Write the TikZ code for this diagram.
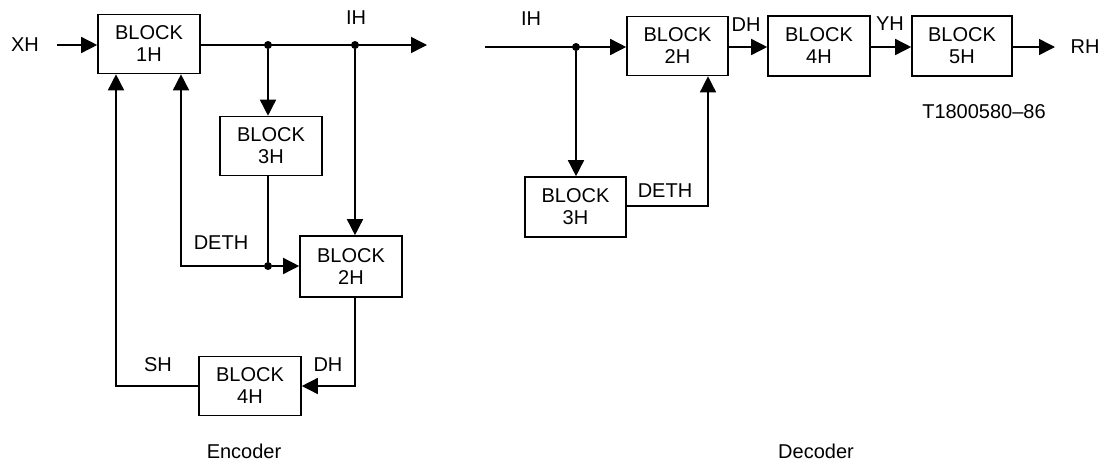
\documentclass[tikz,border=0pt]{standalone}
\usepackage{fontspec}
\setmainfont{Liberation Sans}
\usetikzlibrary{arrows.meta}
\begin{document}
\begin{tikzpicture}[x=1pt,y=-1pt,
  every node/.style={font=\fontsize{20}{22}\selectfont},
  blk/.style={draw,line width=1.6pt,inner sep=0pt,align=center,minimum width=102pt,minimum height=59pt},
  wire/.style={line width=1.5pt},
  arr/.style={wire,-{Triangle[length=16pt,width=16pt]}},
  lbl/.style={inner sep=0pt},
  dot/.style={circle,fill,inner sep=0pt,minimum size=8pt}]
\useasboundingbox (0,0) rectangle (1106,464);
% ---------------- Encoder ----------------
\node[blk] (b1) at (149,44) {BLOCK\\1H};
\node[blk] (b3) at (271,146) {BLOCK\\3H};
\node[blk,minimum height=61pt] (b2) at (351,266.5) {BLOCK\\2H};
\node[blk] (b4) at (250,386) {BLOCK\\4H};
\coordinate (xin) at (57,45);
\coordinate (eout) at (427,45);
\node[dot] (j1) at (268,45) {};
\node[dot] (j2) at (355,45) {};
\node[dot] (j3) at (268,266) {};
\coordinate (c1) at (181,266);
\coordinate (c2) at (355,386);
\coordinate (c3) at (116,386);
\draw[arr] (xin) -- (b1.west |- xin);
\draw[arr] (b1.east |- xin) -- (eout);
\draw[arr] (j1) -- (j1 |- b3.north);
\draw[arr] (j2) -- (j2 |- b2.north);
\draw[wire] (j1 |- b3.south) -- (j3);
\draw[arr] (j3) -- (b2.west |- j3);
\draw[arr] (j3) -- (c1) -- (c1 |- b1.south);
\draw[arr] (j2 |- b2.south) -- (c2) -- (b4.east |- c2);
\draw[arr] (b4.west |- c3) -- (c3) -- (c3 |- b1.south);
\node[lbl] (lxh) at (25,45) {XH};
\node[lbl] (lih) at (356,18) {IH};
\node[lbl] (ldeth) at (221,243) {DETH};
\node[lbl] (lsh) at (158,365) {SH};
\node[lbl] (ldh) at (328,365) {DH};
\node[lbl] (lenc) at (244,451) {Encoder};
% ---------------- Decoder ----------------
\node[blk,minimum width=101pt] (d2) at (677.5,46) {BLOCK\\2H};
\node[blk,minimum width=101pt,minimum height=60pt] (d3) at (575.5,207) {BLOCK\\3H};
\node[blk,minimum width=102pt,minimum height=60pt] (d4) at (819,46) {BLOCK\\4H};
\node[blk,minimum width=100pt,minimum height=60pt] (d5) at (962,46) {BLOCK\\5H};
\coordinate (din) at (485,47);
\coordinate (dout) at (1055,47);
\node[dot] (j4) at (576,47) {};
\coordinate (c4) at (708,206);
\draw[arr] (din) -- (d2.west |- din);
\draw[arr] (j4) -- (j4 |- d3.north);
\draw[arr] (d3.east |- c4) -- (c4) -- (c4 |- d2.south);
\draw[arr] (d2.east |- din) -- (d4.west |- din);
\draw[arr] (d4.east |- din) -- (d5.west |- din);
\draw[arr] (d5.east |- din) -- (dout);
\node[lbl] (lih2) at (531,19) {IH};
\node[lbl] (ldh2) at (746,25) {DH};
\node[lbl] (lyh) at (890,24) {YH};
\node[lbl] (lrh) at (1085,47) {RH};
\node[lbl] (ldeth2) at (665,191) {DETH};
\node[lbl] (lt) at (984,112) {T1800580--86};
\node[lbl] (ldec) at (816,451) {Decoder};
\end{tikzpicture}
\end{document}
